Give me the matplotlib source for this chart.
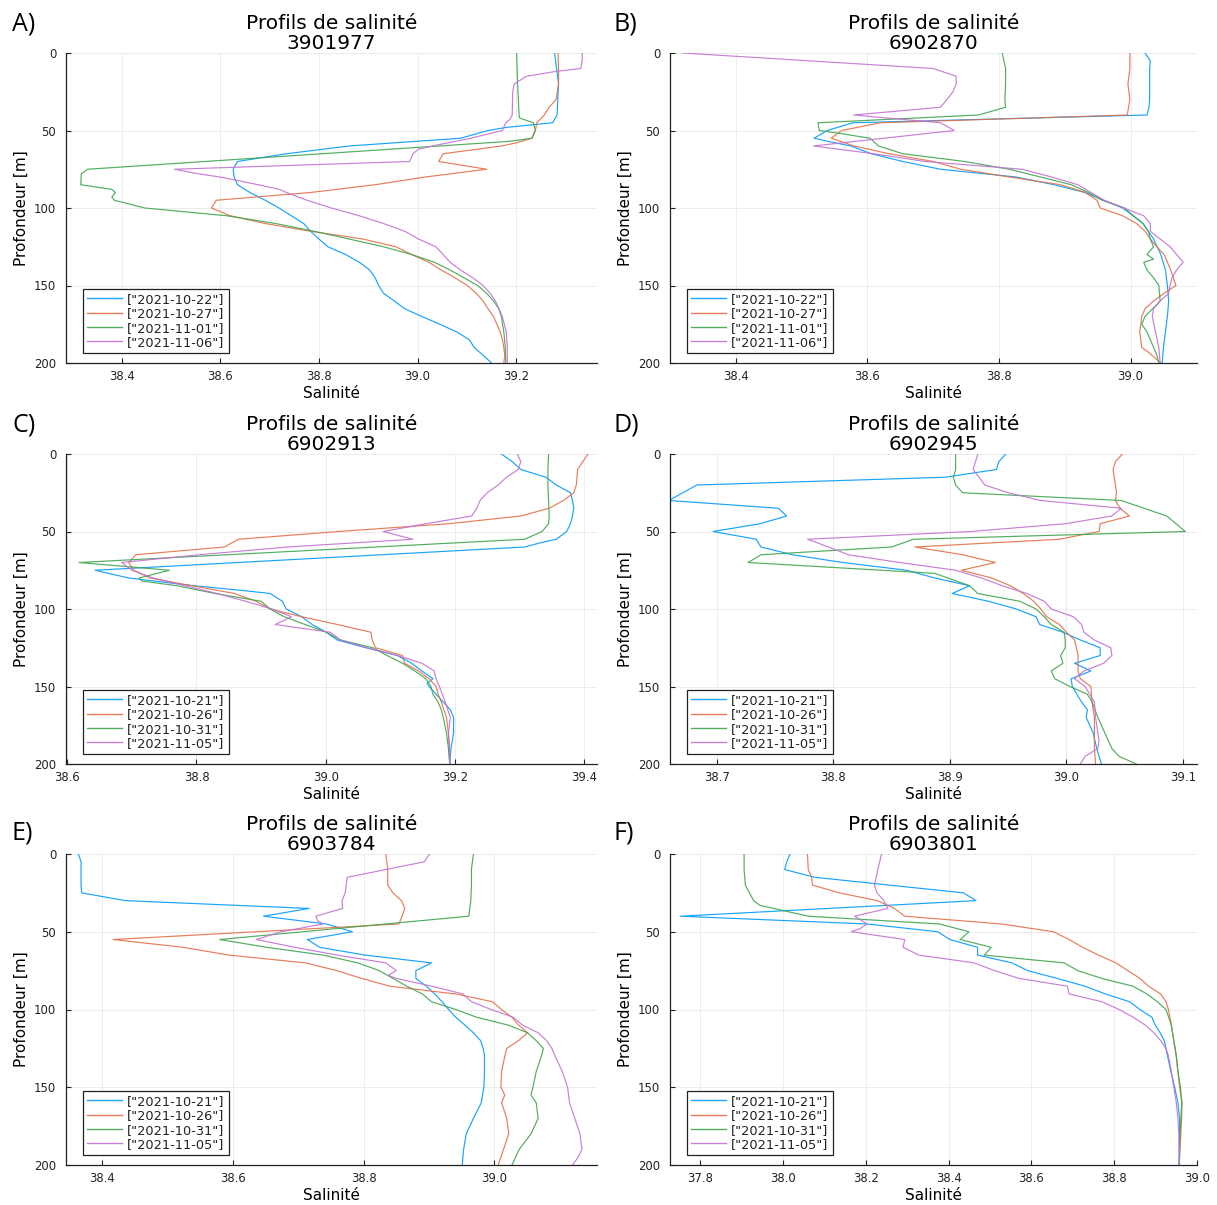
import matplotlib
matplotlib.use("Agg")
import matplotlib.pyplot as plt
from matplotlib.ticker import FormatStrFormatter

# ---------------- DATA ----------------
dates_ab = ['["2021-10-22"]', '["2021-10-27"]', '["2021-11-01"]', '["2021-11-06"]']
dates_cf = ['["2021-10-21"]', '["2021-10-26"]', '["2021-10-31"]', '["2021-11-05"]']
floats = ["3901977", "6902870", "6902913", "6902945", "6903784", "6903801"]
letters = ["A)", "B)", "C)", "D)", "E)", "F)"]

# Panel A - 3901977
a1_z = [0, 20, 40, 45, 48, 50, 55, 60, 65, 70, 75, 80, 85, 90, 95, 100, 105, 110, 115, 120, 125, 130, 135, 140, 145, 150, 155, 160, 165, 170, 175, 180, 185, 190, 195, 200]
a1_s = [39.278, 39.286, 39.283, 39.274, 39.18, 39.143, 39.087, 38.861, 38.734, 38.635, 38.626, 38.628, 38.635, 38.66, 38.691, 38.719, 38.744, 38.769, 38.783, 38.8, 38.818, 38.854, 38.882, 38.903, 38.914, 38.921, 38.931, 38.953, 38.974, 39.009, 39.045, 39.08, 39.105, 39.115, 39.133, 39.15]
a2_z = [0, 10, 20, 30, 35, 40, 45, 50, 55, 58, 60, 65, 70, 75, 80, 85, 90, 95, 100, 105, 110, 115, 120, 125, 130, 135, 140, 145, 150, 155, 160, 165, 170, 175, 180, 185, 190, 195, 200]
a2_s = [39.285, 39.286, 39.286, 39.281, 39.267, 39.257, 39.242, 39.239, 39.232, 39.2, 39.17, 39.052, 39.043, 39.14, 39.016, 38.914, 38.783, 38.592, 38.582, 38.62, 38.691, 38.783, 38.889, 38.956, 38.988, 39.023, 39.048, 39.076, 39.101, 39.119, 39.133, 39.143, 39.154, 39.161, 39.168, 39.172, 39.175, 39.177, 39.175]
a3_z = [0, 20, 40, 42, 45, 50, 55, 57, 75, 78, 85, 88, 90, 93, 95, 100, 105, 110, 115, 120, 125, 130, 135, 140, 145, 150, 155, 160, 165, 170, 180, 190, 200]
a3_s = [39.201, 39.203, 39.206, 39.207, 39.235, 39.239, 39.232, 39.186, 38.331, 38.318, 38.317, 38.38, 38.387, 38.38, 38.385, 38.447, 38.613, 38.712, 38.79, 38.861, 38.931, 38.988, 39.034, 39.066, 39.094, 39.122, 39.14, 39.154, 39.165, 39.17, 39.175, 39.178, 39.179]
a4_z = [0, 5, 10, 12, 15, 20, 25, 40, 43, 45, 50, 55, 60, 62, 65, 70, 75, 78, 80, 85, 88, 90, 95, 100, 105, 110, 115, 120, 125, 130, 135, 140, 145, 150, 155, 160, 170, 180, 190, 200]
a4_s = [39.334, 39.334, 39.331, 39.278, 39.221, 39.196, 39.193, 39.192, 39.187, 39.179, 39.172, 39.108, 39.03, 39.002, 38.991, 38.984, 38.507, 38.557, 38.599, 38.677, 38.72, 38.734, 38.776, 38.825, 38.882, 38.931, 38.974, 39.002, 39.037, 39.052, 39.066, 39.087, 39.112, 39.133, 39.147, 39.158, 39.172, 39.18, 39.182, 39.182]

# Panel B - 6902870
b1_z = [0, 5, 10, 20, 30, 35, 40, 45, 50, 55, 57, 60, 65, 70, 75, 80, 85, 90, 95, 100, 105, 110, 115, 120, 130, 140, 150, 160, 170, 180, 190, 200]
b1_s = [39.022, 39.03, 39.029, 39.029, 39.029, 39.028, 39.025, 38.578, 38.539, 38.519, 38.54, 38.575, 38.606, 38.654, 38.711, 38.826, 38.884, 38.931, 38.959, 38.988, 39.004, 39.019, 39.027, 39.035, 39.046, 39.053, 39.056, 39.058, 39.056, 39.053, 39.05, 39.048]
b2_z = [0, 10, 20, 30, 35, 40, 45, 50, 55, 60, 65, 70, 75, 80, 85, 90, 95, 100, 105, 110, 115, 120, 125, 130, 140, 150, 155, 160, 165, 170, 180, 190, 193, 200]
b2_s = [38.999, 38.999, 38.996, 38.999, 38.997, 38.995, 38.62, 38.561, 38.545, 38.58, 38.633, 38.70, 38.742, 38.816, 38.894, 38.931, 38.949, 38.954, 38.988, 39.009, 39.022, 39.03, 39.04, 39.051, 39.061, 39.069, 39.051, 39.035, 39.022, 39.017, 39.014, 39.017, 39.027, 39.046]
b3_z = [0, 10, 20, 30, 35, 40, 45, 50, 52, 55, 60, 65, 70, 75, 80, 85, 90, 95, 100, 105, 110, 115, 120, 125, 130, 133, 135, 140, 145, 150, 160, 170, 175, 180, 185, 190, 195, 200]
b3_s = [38.805, 38.81, 38.81, 38.809, 38.81, 38.769, 38.525, 38.527, 38.56, 38.604, 38.617, 38.654, 38.748, 38.816, 38.863, 38.91, 38.936, 38.957, 38.991, 39.004, 39.019, 39.027, 39.03, 39.035, 39.025, 39.035, 39.02, 39.025, 39.035, 39.043, 39.045, 39.022, 39.017, 39.025, 39.03, 39.035, 39.04, 39.043]
b4_z = [0, 10, 15, 20, 25, 30, 35, 40, 45, 50, 60, 65, 70, 75, 80, 85, 90, 95, 100, 105, 110, 115, 120, 125, 130, 135, 140, 145, 150, 155, 160, 165, 170, 180, 190, 200]
b4_s = [38.319, 38.70, 38.735, 38.735, 38.73, 38.721, 38.711, 38.579, 38.711, 38.732, 38.518, 38.61, 38.688, 38.835, 38.88, 38.92, 38.94, 38.96, 38.99, 39.02, 39.03, 39.03, 39.045, 39.06, 39.07, 39.08, 39.07, 39.063, 39.06, 39.058, 39.045, 39.035, 39.033, 39.038, 39.043, 39.045]

# Panel C - 6902913
c1_z = [0, 5, 10, 15, 20, 25, 30, 35, 40, 45, 50, 55, 57, 60, 75, 80, 85, 88, 90, 95, 100, 105, 110, 115, 120, 125, 130, 135, 140, 145, 148, 150, 155, 160, 165, 170, 180, 190, 200]
c1_s = [39.272, 39.289, 39.302, 39.341, 39.357, 39.379, 39.382, 39.384, 39.382, 39.379, 39.373, 39.357, 39.335, 39.308, 38.643, 38.695, 38.796, 38.87, 38.914, 38.933, 38.939, 38.963, 38.979, 39.001, 39.018, 39.062, 39.111, 39.133, 39.149, 39.166, 39.157, 39.16, 39.171, 39.182, 39.193, 39.198, 39.198, 39.194, 39.192]
c2_z = [0, 5, 10, 20, 25, 30, 35, 40, 45, 50, 55, 60, 65, 70, 75, 80, 85, 90, 95, 100, 105, 110, 115, 120, 125, 130, 135, 140, 145, 150, 155, 160, 170, 180, 190, 200]
c2_s = [39.406, 39.398, 39.39, 39.388, 39.384, 39.368, 39.346, 39.302, 39.19, 39.02, 38.865, 38.843, 38.706, 38.695, 38.703, 38.728, 38.793, 38.859, 38.892, 38.914, 38.963, 39.018, 39.07, 39.072, 39.077, 39.119, 39.122, 39.144, 39.16, 39.171, 39.174, 39.179, 39.187, 39.19, 39.191, 39.192]
c3_z = [0, 10, 20, 30, 40, 45, 50, 55, 70, 75, 80, 82, 85, 90, 95, 100, 105, 110, 115, 120, 125, 130, 135, 140, 145, 150, 155, 160, 165, 170, 180, 190, 200]
c3_s = [39.345, 39.344, 39.344, 39.345, 39.346, 39.345, 39.335, 39.308, 38.618, 38.758, 38.711, 38.716, 38.77, 38.829, 38.9, 38.914, 38.936, 38.968, 39.001, 39.023, 39.073, 39.095, 39.119, 39.138, 39.155, 39.163, 39.166, 39.174, 39.179, 39.182, 39.187, 39.19, 39.192]
c4_z = [0, 5, 10, 15, 20, 25, 30, 35, 40, 45, 50, 55, 60, 65, 70, 75, 80, 85, 90, 95, 100, 105, 110, 115, 120, 125, 130, 135, 140, 145, 150, 160, 170, 180, 190, 200]
c4_s = [39.297, 39.302, 39.298, 39.28, 39.267, 39.25, 39.239, 39.234, 39.226, 39.155, 39.089, 39.135, 38.941, 38.804, 38.684, 38.7, 38.733, 38.782, 38.832, 38.876, 38.917, 38.947, 38.922, 39.007, 39.023, 39.064, 39.111, 39.149, 39.168, 39.171, 39.176, 39.185, 39.193, 39.19, 39.192, 39.192]

# Panel D - 6902945
d1_z = [0, 5, 10, 15, 20, 30, 35, 40, 45, 50, 55, 60, 65, 70, 75, 80, 85, 90, 95, 100, 105, 110, 115, 120, 125, 130, 135, 140, 145, 150, 155, 160, 165, 170, 175, 180, 190, 195, 200]
d1_s = [38.948, 38.942, 38.94, 38.896, 38.683, 38.659, 38.753, 38.76, 38.737, 38.697, 38.734, 38.738, 38.765, 38.808, 38.863, 38.887, 38.917, 38.902, 38.933, 38.957, 38.974, 38.977, 38.997, 39.012, 39.029, 39.029, 39.007, 39.021, 39.004, 39.005, 39.009, 39.013, 39.018, 39.017, 39.02, 39.023, 39.026, 39.028, 39.03]
d2_z = [0, 5, 10, 20, 25, 30, 35, 40, 45, 50, 55, 60, 65, 70, 75, 80, 85, 90, 95, 100, 105, 110, 115, 120, 130, 140, 145, 150, 160, 170, 180, 190, 200]
d2_s = [39.048, 39.042, 39.04, 39.042, 39.043, 39.042, 39.046, 39.054, 39.029, 39.028, 38.994, 38.87, 38.911, 38.939, 38.91, 38.936, 38.952, 38.963, 38.972, 38.978, 38.983, 38.994, 39.0, 39.007, 39.01, 39.01, 39.012, 39.021, 39.022, 39.024, 39.024, 39.024, 39.025]
d3_z = [0, 10, 15, 20, 25, 30, 40, 50, 55, 60, 65, 70, 77, 85, 90, 95, 100, 105, 110, 115, 120, 125, 130, 135, 140, 145, 150, 155, 160, 170, 180, 190, 195, 200]
d3_s = [38.905, 38.905, 38.903, 38.905, 38.911, 39.047, 39.086, 39.102, 38.869, 38.85, 38.738, 38.727, 38.887, 38.917, 38.924, 38.96, 38.974, 38.981, 38.987, 38.998, 38.999, 38.999, 38.995, 38.997, 38.987, 38.99, 39.003, 39.018, 39.022, 39.027, 39.033, 39.039, 39.045, 39.06]
d4_z = [0, 5, 10, 15, 20, 25, 30, 35, 40, 45, 50, 55, 60, 65, 70, 75, 80, 85, 90, 95, 100, 105, 110, 115, 120, 125, 130, 135, 140, 145, 150, 155, 160, 170, 180, 185, 190, 195, 200]
d4_s = [38.924, 38.922, 38.92, 38.925, 38.93, 38.95, 38.978, 39.047, 39.039, 38.999, 38.918, 38.778, 38.796, 38.813, 38.857, 38.905, 38.927, 38.945, 38.966, 38.981, 38.987, 39.006, 39.013, 39.015, 39.024, 39.038, 39.039, 39.032, 39.015, 39.007, 39.016, 39.02, 39.024, 39.025, 39.027, 39.028, 39.027, 39.016, 39.012]

# Panel E - 6903784
e1_z = [0, 5, 10, 20, 25, 30, 35, 40, 45, 50, 55, 60, 65, 70, 75, 80, 85, 90, 95, 100, 105, 110, 115, 120, 125, 130, 140, 150, 160, 170, 180, 190, 200]
e1_s = [38.364, 38.368, 38.368, 38.368, 38.369, 38.436, 38.717, 38.647, 38.743, 38.783, 38.714, 38.733, 38.802, 38.904, 38.88, 38.88, 38.896, 38.909, 38.92, 38.93, 38.941, 38.955, 38.968, 38.979, 38.983, 38.985, 38.985, 38.984, 38.98, 38.968, 38.957, 38.953, 38.951]
e2_z = [0, 10, 20, 25, 30, 35, 40, 45, 55, 60, 65, 70, 75, 80, 85, 90, 95, 100, 105, 110, 115, 120, 125, 130, 140, 150, 155, 160, 170, 180, 190, 200]
e2_s = [38.834, 38.837, 38.837, 38.845, 38.858, 38.863, 38.859, 38.854, 38.417, 38.524, 38.594, 38.711, 38.759, 38.797, 38.84, 38.941, 38.997, 39.011, 39.027, 39.037, 39.051, 39.037, 39.019, 39.016, 39.011, 39.01, 39.016, 39.011, 39.019, 39.022, 39.014, 39.006]
e3_z = [0, 10, 20, 30, 40, 55, 60, 65, 70, 75, 80, 85, 90, 95, 100, 105, 110, 115, 120, 125, 130, 140, 150, 155, 160, 170, 180, 190, 200]
e3_s = [38.968, 38.965, 38.965, 38.964, 38.961, 38.58, 38.652, 38.738, 38.791, 38.824, 38.845, 38.866, 38.89, 38.904, 38.941, 38.973, 39.021, 39.051, 39.064, 39.075, 39.072, 39.064, 39.059, 39.056, 39.064, 39.067, 39.056, 39.038, 39.027]
e4_z = [0, 5, 10, 15, 25, 30, 35, 40, 43, 45, 50, 55, 60, 65, 70, 75, 78, 80, 85, 90, 95, 100, 105, 110, 115, 120, 125, 130, 140, 150, 160, 170, 180, 190, 195, 200]
e4_s = [38.901, 38.893, 38.834, 38.775, 38.772, 38.767, 38.768, 38.727, 38.73, 38.738, 38.674, 38.636, 38.695, 38.759, 38.834, 38.85, 38.838, 38.85, 38.904, 38.952, 38.965, 38.995, 39.029, 39.043, 39.067, 39.08, 39.088, 39.093, 39.104, 39.112, 39.115, 39.123, 39.131, 39.134, 39.128, 39.12]

# Panel F - 6903801
f1_z = [0, 5, 10, 15, 20, 25, 30, 40, 45, 50, 55, 60, 65, 70, 75, 80, 85, 90, 95, 100, 105, 110, 115, 120, 130, 140, 150, 160, 170, 180, 190, 200]
f1_s = [38.017, 38.009, 38.004, 38.077, 38.257, 38.436, 38.466, 37.752, 38.203, 38.374, 38.403, 38.47, 38.47, 38.553, 38.591, 38.662, 38.729, 38.779, 38.837, 38.862, 38.891, 38.899, 38.911, 38.921, 38.929, 38.937, 38.946, 38.954, 38.958, 38.958, 38.957, 38.957]
f2_z = [0, 10, 15, 20, 25, 30, 35, 40, 45, 50, 55, 60, 65, 70, 75, 80, 85, 90, 95, 100, 110, 120, 130, 140, 150, 160, 170, 180, 190, 200]
f2_s = [38.059, 38.061, 38.069, 38.071, 38.136, 38.228, 38.269, 38.294, 38.528, 38.653, 38.691, 38.724, 38.762, 38.804, 38.833, 38.862, 38.883, 38.912, 38.925, 38.931, 38.938, 38.944, 38.95, 38.954, 38.958, 38.964, 38.963, 38.961, 38.959, 38.957]
f3_z = [0, 10, 20, 25, 30, 33, 40, 45, 50, 55, 60, 65, 68, 70, 75, 80, 85, 90, 95, 100, 110, 120, 130, 140, 150, 160, 170, 180, 200]
f3_s = [37.906, 37.906, 37.909, 37.919, 37.929, 37.944, 38.061, 38.378, 38.449, 38.428, 38.503, 38.486, 38.6, 38.679, 38.712, 38.77, 38.845, 38.879, 38.904, 38.925, 38.938, 38.944, 38.95, 38.954, 38.96, 38.963, 38.961, 38.959, 38.957]
f4_z = [0, 10, 15, 20, 25, 30, 35, 40, 45, 48, 50, 55, 60, 65, 70, 75, 80, 85, 90, 95, 100, 105, 110, 115, 120, 125, 130, 140, 150, 160, 170, 180, 190, 200]
f4_s = [38.238, 38.229, 38.225, 38.221, 38.227, 38.244, 38.253, 38.173, 38.203, 38.186, 38.165, 38.294, 38.29, 38.328, 38.461, 38.511, 38.57, 38.687, 38.691, 38.77, 38.812, 38.846, 38.875, 38.896, 38.912, 38.925, 38.931, 38.938, 38.944, 38.95, 38.954, 38.956, 38.957, 38.957]

xlims = [(38.287, 39.364), (38.300, 39.101), (38.598, 39.42), (38.66, 39.112), (38.345, 39.157), (37.727, 39.0)]
xticks = [[38.4, 38.6, 38.8, 39.0, 39.2], [38.4, 38.6, 38.8, 39.0], [38.6, 38.8, 39.0, 39.2, 39.4],
          [38.7, 38.8, 38.9, 39.0, 39.1], [38.4, 38.6, 38.8, 39.0], [37.8, 38.0, 38.2, 38.4, 38.6, 38.8, 39.0]]
yticks = [0, 50, 100, 150, 200]

series = [
    [(a1_z, a1_s), (a2_z, a2_s), (a3_z, a3_s), (a4_z, a4_s)],
    [(b1_z, b1_s), (b2_z, b2_s), (b3_z, b3_s), (b4_z, b4_s)],
    [(c1_z, c1_s), (c2_z, c2_s), (c3_z, c3_s), (c4_z, c4_s)],
    [(d1_z, d1_s), (d2_z, d2_s), (d3_z, d3_s), (d4_z, d4_s)],
    [(e1_z, e1_s), (e2_z, e2_s), (e3_z, e3_s), (e4_z, e4_s)],
    [(f1_z, f1_s), (f2_z, f2_s), (f3_z, f3_s), (f4_z, f4_s)],
]
labels = [dates_ab, dates_ab, dates_cf, dates_cf, dates_cf, dates_cf]

# ---------------- STYLE / LAYOUT ----------------
colors = ["#009AFA", "#E36F47", "#3EA44E", "#C271D2"]
W, H = 1217, 1205
fig = plt.figure(figsize=(W / 100, H / 100), dpi=100)
plt.rcParams['font.family'] = ['DejaVu Sans']

cols = [(66, 597), (670, 1197)]
rows = [(53, 363), (454, 764), (854, 1165)]

for i in range(6):
    r, c = divmod(i, 2)
    x0, x1 = cols[c]
    t, b = rows[r]
    ax = fig.add_axes([x0 / W, 1 - b / H, (x1 - x0) / W, (b - t) / H])
    for (z, s), col, lab in zip(series[i], colors, labels[i]):
        ax.plot(s, z, color=col, lw=0.85, label=lab, alpha=0.9)
    ax.set_xlim(*xlims[i])
    ax.set_ylim(200, 0)
    ax.set_xticks(xticks[i])
    ax.set_yticks(yticks)
    ax.xaxis.set_major_formatter(FormatStrFormatter('%.1f'))
    ax.grid(True, color='#e9e9e9', lw=0.6)
    ax.set_axisbelow(True)
    for sp in ['top', 'right']:
        ax.spines[sp].set_visible(False)
    for sp in ['left', 'bottom']:
        ax.spines[sp].set_color('#222222')
        ax.spines[sp].set_linewidth(0.9)
    ax.tick_params(axis='both', direction='in', length=3.5, width=0.8, color='#222222',
                   labelsize=8.4, labelcolor='#222222')
    ax.tick_params(axis='x', pad=5)
    ax.tick_params(axis='y', pad=7)
    ax.set_xlabel("Salinité", fontsize=11, labelpad=2)
    ax.set_ylabel("Profondeur [m]", fontsize=11, labelpad=4)
    ax.set_title("Profils de salinité\n" + floats[i], fontsize=14.5, linespacing=1.05, pad=0)
    leg = ax.legend(loc='lower left', bbox_to_anchor=(17 / (x1 - x0), 10 / (b - t)),
                    borderaxespad=0, fontsize=9.3, frameon=True, fancybox=False,
                    edgecolor='#222222', framealpha=1, handlelength=2.7,
                    handletextpad=0.4, labelspacing=0.1, borderpad=0.32)
    leg.get_frame().set_linewidth(0.9)
    for txt in leg.get_texts():
        txt.set_color('#222222')
    for ln in leg.get_lines():
        ln.set_linewidth(1.0)
    # panel letter
    lx = 12 if c == 0 else 614
    ly = [24, 425, 833][r]
    fig.text(lx / W, 1 - ly / H, letters[i], fontsize=18, family='Open Sans',
             ha='left', va='center')

fig.savefig("out.png", dpi=100)
